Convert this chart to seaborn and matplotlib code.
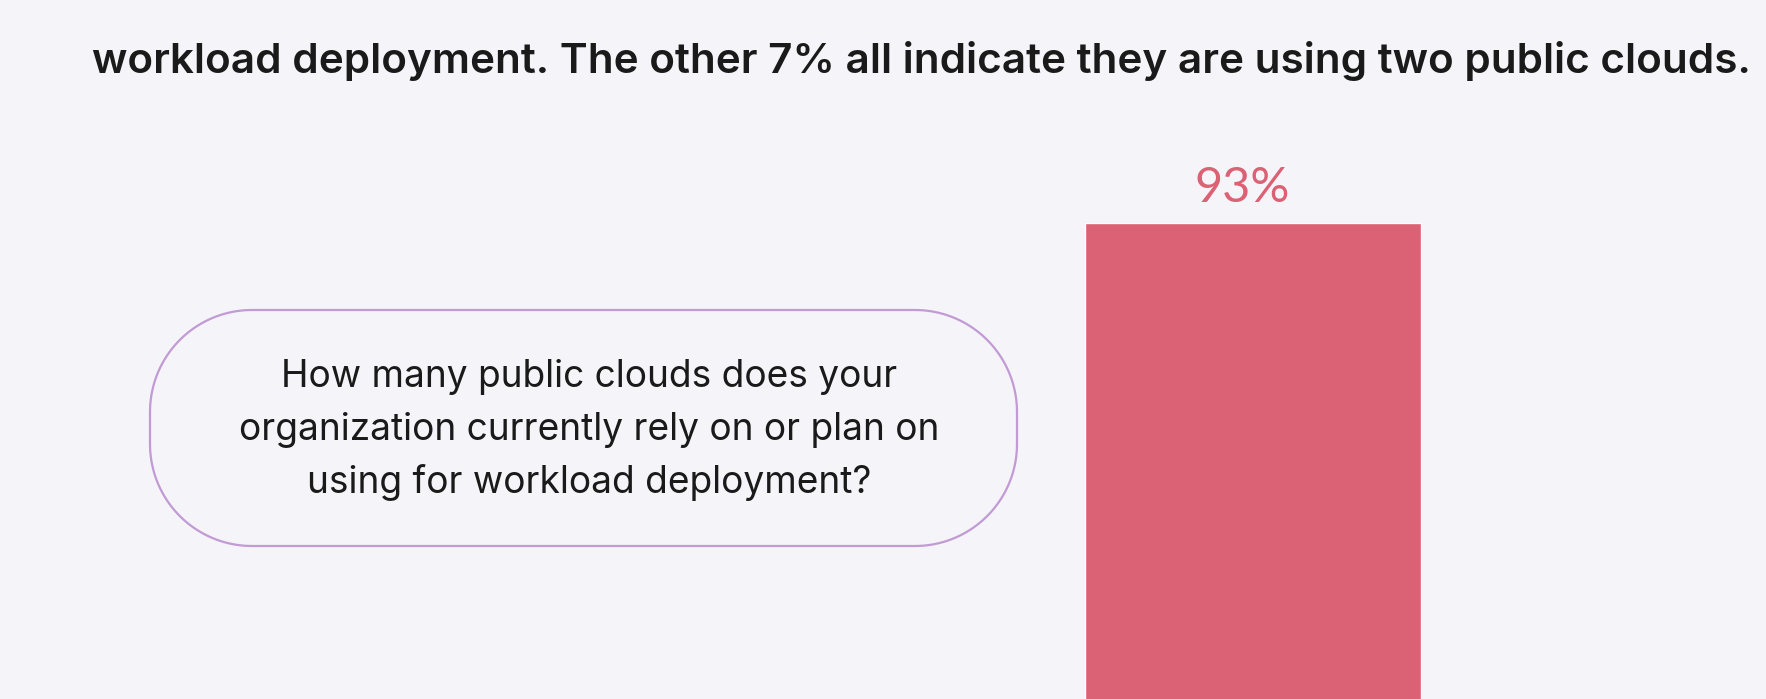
import matplotlib
matplotlib.use("Agg")
import matplotlib.pyplot as plt
import seaborn as sns
import pandas as pd
import numpy as np
from matplotlib.patches import Polygon

# data
categories = ["One public cloud"]
shares = [93]
bar_labels = ["93%"]

headline = "workload deployment. The other 7% all indicate they are using two public clouds."
question_lines = ["How many public clouds does your",
                  "organization currently rely on or plan on",
                  "using for workload deployment?"]

bg = "#F4F4F9"
bar_color = "#DB6174"
text_color = "#1A1A1A"
bubble_edge = "#C29AD4"

sns.set_theme(style="white")
plt.rcParams["font.family"] = ["Inter", "DejaVu Sans"]

W, H = 1766, 699
fig = plt.figure(figsize=(W / 100, H / 100), dpi=100, facecolor=bg)

# bar axes: top of bar at y=223px, bar spans x 1085..1421, zero below the crop
top_px = 223
zero_px = 1000
ax = fig.add_axes([1085 / W, (H - zero_px) / H, 336 / W, (zero_px - top_px) / H])
df = pd.DataFrame({"category": categories, "share": shares})
sns.barplot(data=df, x="category", y="share", color=bar_color, saturation=1,
            width=1.0, ax=ax)
ax.set_xlim(-0.5, 0.5)
ax.set_ylim(0, shares[0])
ax.patch.set_alpha(0)
ax.axis("off")
for p in ax.patches:
    p.set_clip_on(False)
lbl = ax.bar_label(ax.containers[0], labels=bar_labels, padding=9, fontsize=35,
                   color=bar_color, family=["Lato", "DejaVu Sans"], clip_on=False)
for t in lbl:
    t.xyann = (-8, 9)  # nudge left, like the reference

# overlay in pixel coordinates for the text and bubble
ov = fig.add_axes([0, 0, 1, 1])
ov.set_xlim(0, W)
ov.set_ylim(H, 0)
ov.axis("off")
ov.patch.set_alpha(0)

ov.text(92, 73, headline, ha="left", va="baseline", fontsize=30.4,
        fontweight="semibold", color=text_color)

# pill-shaped bubble with circular ends
x0, y0, x1, y1, r = 150, 310, 1017, 546, 102
def arc(cx, cy, a0, a1):
    t = np.radians(np.linspace(a0, a1, 40))
    return np.column_stack([cx + r * np.cos(t), cy + r * np.sin(t)])
pts = np.vstack([arc(x1 - r, y0 + r, 270, 360), arc(x1 - r, y1 - r, 0, 90),
                 arc(x0 + r, y1 - r, 90, 180), arc(x0 + r, y0 + r, 180, 270)])
ov.add_patch(Polygon(pts, closed=True, facecolor=bg, edgecolor=bubble_edge,
                     linewidth=1.6))
for line, base in zip(question_lines, [387, 440, 493]):
    ov.text(589, base, line, ha="center", va="baseline", fontsize=26.7,
            color=text_color)

fig.savefig("out.png", dpi=100, facecolor=bg)
